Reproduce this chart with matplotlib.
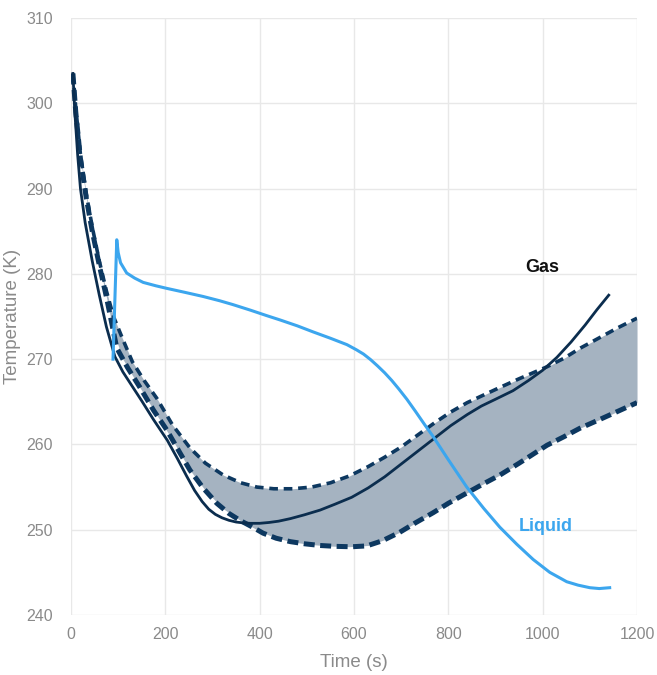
import matplotlib
matplotlib.use('Agg')
import matplotlib.pyplot as plt
import numpy as np

plt.rcParams['font.family'] = ['Liberation Sans', 'DejaVu Sans']

# gas temperature (solid)
gas_t = [4, 8, 14, 20, 30, 45, 60, 75, 93, 110, 130, 150, 175, 204, 225, 245, 262, 278, 292,
         306, 320, 335, 350, 365, 380, 400, 420, 440, 465, 495, 528, 560, 595, 630, 665, 700,
         735, 770, 805, 840, 870, 900, 937, 970, 1000, 1030, 1060, 1090, 1115, 1140]
gas_T = [303.5, 299, 294, 290, 286, 281.5, 277.5, 273.8, 270.3, 268.5, 266.8, 265.1, 262.9,
         260.5, 258.4, 256.3, 254.6, 253.3, 252.4, 251.8, 251.4, 251.1, 250.9, 250.8, 250.75,
         250.75, 250.85, 251.0, 251.3, 251.75, 252.3, 253.0, 253.8, 254.9, 256.2, 257.7, 259.2,
         260.7, 262.2, 263.5, 264.5, 265.3, 266.3, 267.5, 268.7, 270.2, 272.0, 274.0, 275.8,
         277.5]

# band upper bound (thin dashes)
upper_t = [4, 10, 20, 32, 45, 60, 75, 90, 110, 130, 155, 182, 215, 252, 285, 323, 360, 394,
           430, 470, 510, 550, 590, 630, 665, 700, 735, 770, 805, 840, 875, 910, 950, 1009,
           1045, 1080, 1120, 1160, 1200]
upper_T = [303.5, 299.5, 294, 289.5, 285.5, 281.5, 278, 275, 272.3, 269.7, 267.5, 265.4,
           262.3, 259.6, 257.8, 256.4, 255.5, 255.0, 254.8, 254.8, 255.0, 255.5, 256.3, 257.4,
           258.5, 259.7, 261.1, 262.5, 263.8, 264.9, 265.8, 266.7, 267.7, 269.1, 270.1, 271.3,
           272.5, 273.7, 274.8]

# band lower bound (thick dashes)
lower_t = [4, 10, 20, 32, 45, 60, 75, 97, 120, 146, 175, 203, 230, 252, 280, 309, 335, 358,
           385, 407, 435, 465, 495, 528, 560, 595, 627, 660, 697, 730, 768, 800, 839, 875, 909,
           950, 1009, 1045, 1079, 1120, 1160, 1200]
lower_T = [303.5, 299, 293.5, 289, 285, 281, 277.3, 271.3, 269.0, 266.7, 264.0, 261.7, 259.1,
           257.0, 254.9, 253.1, 251.9, 251.1, 250.3, 249.6, 249.0, 248.6, 248.35, 248.15, 248.05,
           248.0, 248.1, 248.7, 249.7, 250.8, 252.0, 253.1, 254.3, 255.4, 256.4, 257.8, 259.9,
           260.9, 261.9, 262.9, 263.9, 264.9]

# liquid temperature
liq_t = [89, 97, 100, 105, 118, 135, 153, 180, 203, 240, 280, 315, 343, 380, 415, 443, 480,
         513, 550, 585, 605, 620, 635, 650, 665, 680, 695, 712, 730, 750, 768, 800, 839, 875,
         909, 945, 980, 1015, 1051, 1075, 1100, 1120, 1142]
liq_T = [270, 284, 282.5, 281.3, 280.1, 279.5, 279.0, 278.6, 278.3, 277.85, 277.35, 276.85,
         276.4, 275.75, 275.1, 274.6, 273.9, 273.2, 272.45, 271.7, 271.1, 270.6, 269.95, 269.2,
         268.4, 267.5, 266.5, 265.3, 263.9, 262.3, 260.9, 258.2, 255.0, 252.5, 250.3, 248.3,
         246.5, 245.0, 243.9, 243.5, 243.2, 243.1, 243.2]

x_ticks = [0, 200, 400, 600, 800, 1000, 1200]
y_ticks = [240, 250, 260, 270, 280, 290, 300, 310]

navy = '#0b2d4e'
dash_col = '#0d3860'
liq_col = '#3ca6ee'
fill_col = '#a5b3c1'
grey = '#8a8a8a'

fig = plt.figure(figsize=(6.57, 6.75), dpi=100)
ax = fig.add_axes([0.1081, 0.0889, 0.8615, 0.8844])

# shaded band between the two dashed bounds
band_lo = np.interp(upper_t, lower_t, lower_T)
ax.fill_between(upper_t, band_lo, upper_T, color=fill_col, lw=0, zorder=1)

ax.plot(upper_t, upper_T, color=dash_col, lw=2.6, dashes=(2.4, 1.6), zorder=3)
ax.plot(lower_t, lower_T, color=dash_col, lw=3.6, dashes=(2.2, 1.1), zorder=3)
ax.plot(gas_t, gas_T, color=navy, lw=2.0, zorder=4)
ax.plot(liq_t, liq_T, color=liq_col, lw=2.2, zorder=5)

ax.text(1000, 280.8, 'Gas', color='#111111', fontsize=13, fontweight='bold',
        ha='center', va='center')
ax.text(1007, 250.4, 'Liquid', color=liq_col, fontsize=13, fontweight='bold',
        ha='center', va='center')

ax.set_xlim(0, 1200)
ax.set_ylim(240, 310)
ax.set_xticks(x_ticks)
ax.set_yticks(y_ticks)
ax.grid(True, color='#e8e8e8', lw=1)
ax.set_axisbelow(True)
for s in ax.spines.values():
    s.set_visible(False)
ax.tick_params(length=0, labelsize=11.5, colors=grey)
ax.tick_params(axis='y', pad=13)
ax.tick_params(axis='x', pad=9)
ax.set_xlabel('Time (s)', fontsize=13.5, color=grey, labelpad=8)
ax.set_ylabel('Temperature (K)', fontsize=13.5, color=grey, labelpad=4)

fig.savefig('out.png', dpi=100)
